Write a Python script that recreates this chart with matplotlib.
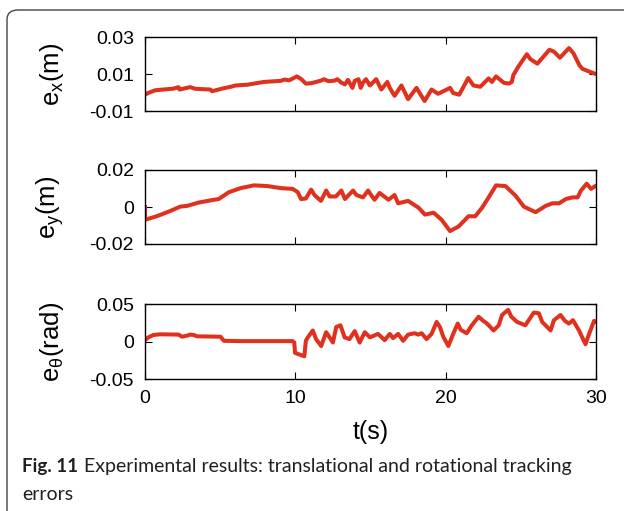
import matplotlib
matplotlib.use('Agg')
import matplotlib.pyplot as plt
from matplotlib.patches import FancyBboxPatch

plt.rcParams['font.family'] = 'Liberation Sans'
plt.rcParams['mathtext.default'] = 'regular'

# e_x (m)
t_ex = [0, 0.2, 0.67, 1.9, 2.23, 2.3, 3.0, 3.35, 4.35, 4.46, 5.13, 5.7, 6.03, 6.8, 7.9,
        9.04, 9.26, 9.6, 10.1, 10.4, 10.7, 11.05, 11.7, 11.9, 12.2, 12.6, 12.8, 13.06,
        13.3, 13.5, 13.8, 13.95, 14.2, 14.35, 14.5, 14.7, 14.96, 15.38, 15.72, 16.12,
        16.28, 16.6, 17.06, 17.5, 18.06, 18.6, 19.06, 19.5, 20.3, 20.5, 20.9, 21.5, 21.85,
        22.3, 22.86, 23.08, 23.35, 23.86, 24.2, 24.4, 24.5, 24.86, 25.4, 25.64, 26.1,
        26.9, 27.2, 27.6, 28.2, 28.5, 28.9, 29.1, 29.55, 30]
ex = [-0.0012, -0.0003, 0.0012, 0.0021, 0.0029, 0.0016, 0.0029, 0.002, 0.0016, 0.0007,
      0.0021, 0.0031, 0.0038, 0.0042, 0.0057, 0.0063, 0.007, 0.0066, 0.0087, 0.0072,
      0.0048, 0.005, 0.0064, 0.0072, 0.0061, 0.0064, 0.0072, 0.0053, 0.0044, 0.0068,
      0.0025, 0.0063, 0.0072, 0.0025, 0.0053, 0.0072, 0.0038, 0.0072, 0.0016, 0.0057,
      0.0025, -0.0018, 0.0038, -0.0036, 0.0025, -0.0046, 0.0016, -0.0007, 0.0025,
      -0.0003, -0.0012, 0.0078, 0.0038, 0.0031, 0.0076, 0.0057, 0.0087, 0.0053, 0.0048,
      0.0057, 0.0094, 0.0143, 0.0207, 0.018, 0.0156, 0.0231, 0.0221, 0.0188, 0.024,
      0.0212, 0.0147, 0.0128, 0.0113, 0.010]

# e_y (m)
t_ey = [0, 0, 0.78, 1.67, 2.34, 2.8, 3.57, 4.58, 4.9, 5.58, 6.36, 7.25, 8.15, 9.04, 9.82,
        10.16, 10.38, 10.7, 11.05, 11.27, 11.7, 12.05, 12.28, 12.7, 13.06, 13.3, 13.84,
        14.06, 14.5, 14.84, 15.07, 15.27, 15.6, 16.2, 16.6, 16.84, 17.5, 18.2, 18.62,
        19.2, 19.73, 20.29, 20.85, 21.52, 21.97, 22.42, 22.86, 23.35, 23.98, 24.65, 25.2,
        25.98, 26.65, 27.1, 27.55, 27.99, 28.44, 28.78, 29.0, 29.38, 29.67, 29.96]
ey = [0.0, -0.0069, -0.005, -0.0022, 0.0002, 0.0006, 0.0024, 0.0039, 0.0043, 0.008,
      0.0102, 0.0117, 0.0113, 0.0102, 0.0098, 0.008, 0.0043, 0.0046, 0.0094, 0.0065,
      0.0033, 0.0089, 0.0057, 0.0057, 0.0089, 0.0043, 0.0089, 0.0065, 0.0052, 0.0089,
      0.0061, 0.0039, 0.0076, 0.0039, 0.0065, 0.002, 0.0033, -0.0004, -0.0041, -0.0031,
      -0.0069, -0.013, -0.0106, -0.005, -0.005, -0.0004, 0.0052, 0.0117, 0.0113, 0.0061,
      0.0002, -0.0028, 0.0006, 0.002, 0.002, 0.0043, 0.0052, 0.0052, 0.0089, 0.0126,
      0.0098, 0.0113]

# e_theta (rad)
t_eth = [0, 0.22, 0.56, 1.0, 2.23, 2.46, 2.8, 3.0, 3.24, 3.46, 5.02, 5.25, 6.36, 9.82,
         9.93, 9.98, 10.27, 10.6, 10.7, 10.83, 11.16, 11.38, 11.72, 12.05, 12.28, 12.5,
         12.72, 13.0, 13.28, 13.6, 13.95, 14.28, 14.62, 14.96, 15.5, 15.94, 16.28, 16.5,
         16.84, 17.17, 17.5, 17.95, 18.17, 18.4, 18.73, 19.06, 19.4, 19.62, 19.84, 20.18,
         20.5, 20.8, 21.0, 21.4, 21.74, 22.19, 22.5, 22.75, 23.19, 23.53, 23.75, 24.15,
         24.37, 24.75, 25.3, 25.86, 26.2, 26.42, 26.64, 26.98, 27.2, 27.64, 27.93, 28.2,
         28.47, 28.87, 29.3, 29.5, 29.87, 30]
eth = [0.0018, 0.0055, 0.0087, 0.0096, 0.0092, 0.0064, 0.0078, 0.0092, 0.0087, 0.0069,
       0.0064, 0.0009, 0.0005, 0.0005, -0.0014, -0.0151, -0.0174, -0.0197, 0.0009,
       0.0055, 0.0147, 0.0032, -0.006, 0.0124, 0.0055, -0.0014, 0.0193, 0.0216, 0.0055,
       0.0032, 0.0138, -0.0014, 0.0124, 0.0055, 0.0101, 0.0018, 0.0101, 0.0046, 0.0101,
       0.0009, 0.0092, 0.011, 0.0092, 0.011, 0.0032, 0.0101, 0.0261, 0.0193, 0.0064,
       -0.006, 0.0101, 0.0239, 0.0156, 0.011, 0.0216, 0.033, 0.0275, 0.0239, 0.0147,
       0.0216, 0.0353, 0.0422, 0.033, 0.0261, 0.0216, 0.0385, 0.0376, 0.0261, 0.0216,
       0.0147, 0.0284, 0.0353, 0.0275, 0.0239, 0.0284, 0.0147, -0.0037, 0.0078, 0.0275,
       0.0261]

panels = [
    (t_ex, ex, 'e$_x$(m)', (-0.01, 0.03), [-0.01, 0.01, 0.03], ['-0.01', '0.01', '0.03']),
    (t_ey, ey, 'e$_y$(m)', (-0.02, 0.02), [-0.02, 0, 0.02], ['-0.02', '0', '0.02']),
    (t_eth, eth, 'e$_\u03b8$(rad)', (-0.05, 0.05), [-0.05, 0, 0.05], ['-0.05', '0', '0.05']),
]

fig = plt.figure(figsize=(6.24, 5.11), dpi=100)
W, H = 624.0, 511.0
boxes = [(37, 111), (170, 244), (304, 379)]
line_color = '#e0301e'

for i, (tt, vv, lab, ylim, yt, ytl) in enumerate(panels):
    top, bot = boxes[i]
    ax = fig.add_axes([145 / W, 1 - bot / H, (596 - 145) / W, (bot - top) / H])
    ax.plot(tt, vv, color=line_color, lw=2.9, solid_joinstyle='round')
    ax.set_xlim(0, 30)
    ax.set_ylim(*ylim)
    ax.set_yticks(yt)
    ax.set_yticklabels(ytl)
    ax.set_xticks([0, 10, 20, 30])
    ax.tick_params(direction='in', top=True, right=True, length=5, width=0.8,
                   labelsize=14, pad=8)
    for s in ax.spines.values():
        s.set_linewidth(1.0)
    ax.set_ylabel(lab, fontsize=18.5)
    ax.yaxis.set_label_coords(-0.175, 0.5)
    if i < 2:
        ax.set_xticklabels([])
    else:
        ax.set_xlabel('t(s)', fontsize=18, labelpad=9)

# rounded frame of the figure panel
frame = FancyBboxPatch((7 / W, -20 / H), 700 / W, (511 - 10 + 20) / H,
                       boxstyle='round,pad=0,rounding_size=0.018',
                       transform=fig.transFigure, fill=False,
                       edgecolor='#444444', lw=1.0, clip_on=False)
fig.patches.append(frame)

cap_color = '#231f20'
cap_font = 'Lato'
fig.text(22 / W, 1 - 472 / H, 'Fig. 11', fontsize=13.5, fontweight='bold',
         family=cap_font, color=cap_color, va='baseline')
fig.text(84 / W, 1 - 472 / H,
         'Experimental results: translational and rotational tracking',
         fontsize=14, family=cap_font, color=cap_color, va='baseline')
fig.text(22 / W, 1 - 500 / H, 'errors', fontsize=14, family=cap_font,
         color=cap_color, va='baseline')

fig.savefig('out.png', dpi=100)
